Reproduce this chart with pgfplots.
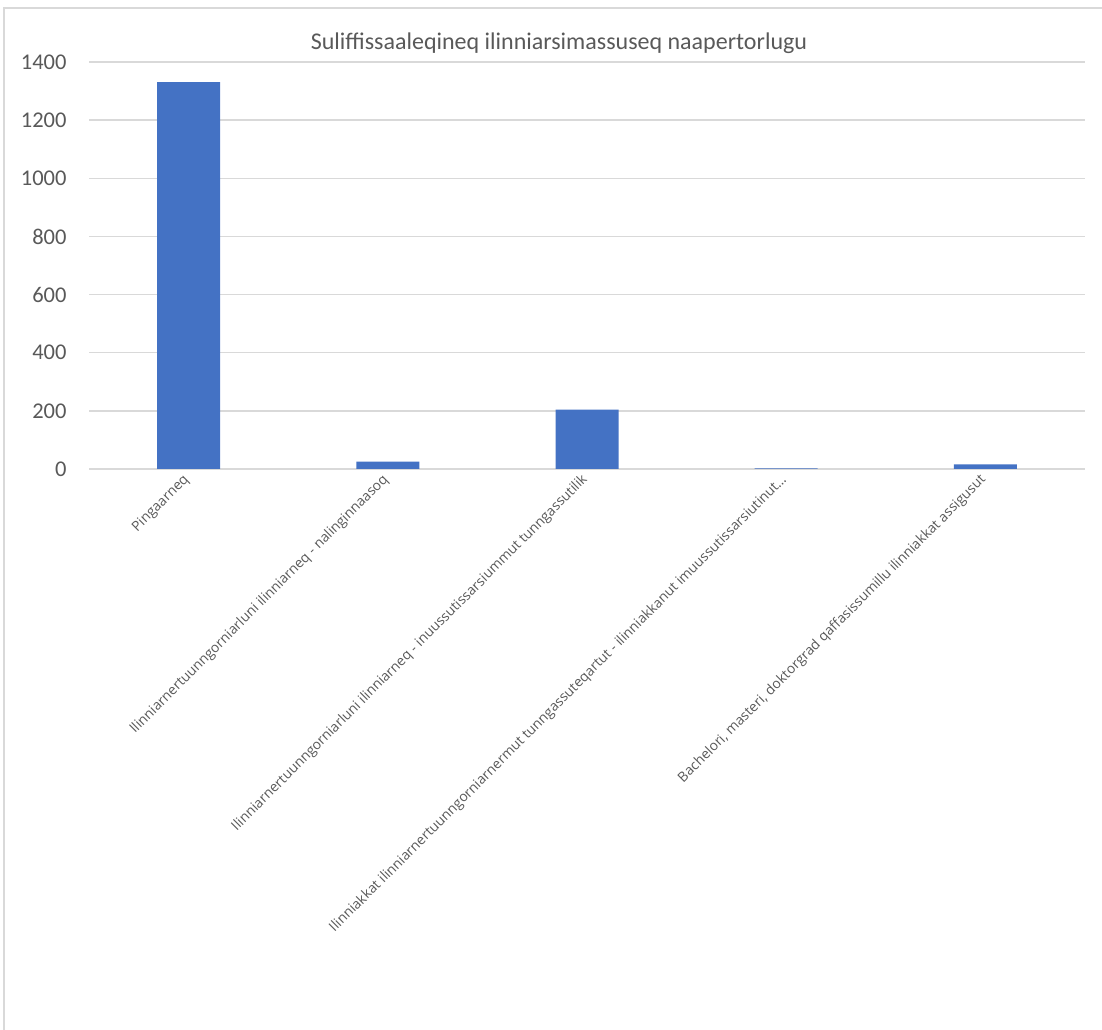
\documentclass[border=0pt]{standalone}
\usepackage{pgfplots}
\pgfplotsset{compat=1.18}
\usepackage{fontspec}
\setmainfont{Carlito}
\newfontfamily\labfont{Open Sans}
\definecolor{barblue}{HTML}{4472C4}
\definecolor{txtgray}{HTML}{595959}
\definecolor{gridgray}{HTML}{D9D9D9}
\begin{document}
\begin{tikzpicture}
\useasboundingbox (0,0) rectangle (1102bp,1030bp);
\draw[gridgray, line width=1.5bp] (4bp,0) -- (4bp,1022bp) -- (1102bp,1022bp);
\node[txtgray, font=\fontsize{24bp}{28bp}\selectfont] at (559bp,987bp) {Suliffissaaleqineq ilinniarsimassuseq naapertorlugu};
\begin{axis}[
  at={(89bp,561bp)}, anchor=south west,
  scale only axis, width=996bp, height=407bp,
  xmin=-0.5, xmax=4.5, ymin=0, ymax=1400,
  ytick={0,200,...,1400},
  xtick={0,1,2,3,4},
  xticklabels={Pingaarneq,
    Ilinniarnertuunngorniarluni ilinniarneq - nalinginnaasoq,
    Ilinniarnertuunngorniarluni ilinniarneq - inuussutissarsiummut tunngassutilik,
    Ilinniakkat ilinniarnertuunngorniarnermut tunngassuteqartut - ilinniakkanut imuussutissarsiutinut…,
    {Bachelori, masteri, doktorgrad qaffasissumillu ilinniakkat assigusut}},
  axis line style={draw=none},
  major tick length=0pt,
  ymajorgrids, grid style={gridgray, line width=1.3bp},
  yticklabel style={txtgray, font=\fontsize{22.5bp}{26bp}\selectfont, xshift=-19bp},
  /pgf/number format/assume math mode=true,
  /pgf/number format/1000 sep={},
  xticklabel style={txtgray, font=\labfont\fontsize{13.8bp}{16bp}\selectfont, rotate=45, anchor=east, yshift=-5bp, xshift=-4bp},
  clip=false,
]
\addplot[ybar, bar width=63bp, fill=barblue, draw=none] coordinates {
  (0,1331) (1,25) (2,204) (3,2) (4,16)
};
\end{axis}
\end{tikzpicture}
\end{document}
